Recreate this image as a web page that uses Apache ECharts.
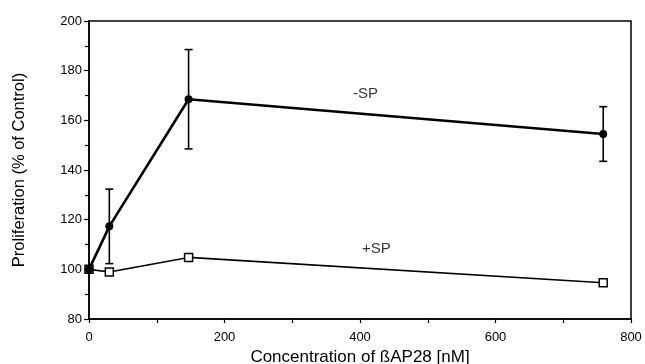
<!DOCTYPE html>
<html>
<head>
<meta charset="utf-8">
<script src="https://cdn.jsdelivr.net/npm/echarts@6/dist/echarts.min.js"></script>
<style>html,body{margin:0;padding:0;background:#fff}#c{width:645px;height:364px}</style>
</head>
<body>
<div id="c"></div>
<script>
const concentrations = [0, 30, 147, 759];
const minusSP = [100, 117.3, 168.5, 154.5];
const minusSPErr = [0, 15, 20, 11];
const plusSP = [100, 98.9, 104.8, 94.6];
const seriesNames = ['-SP', '+SP'];
const labelAnchors = [[408, 170.5], [424, 108.3]];

const font = '"Liberation Sans", Arial, sans-serif';
const chart = echarts.init(document.getElementById('c'));

const errData = concentrations.map((x, i) => [x, minusSP[i] - minusSPErr[i], minusSP[i] + minusSPErr[i]]).filter((d, i) => minusSPErr[i] > 0);

chart.setOption({
  animation: false,
  backgroundColor: '#fff',
  grid: { left: 89, right: 14, top: 21, bottom: 45, show: true, borderColor: '#000', borderWidth: 1.5, backgroundColor: 'transparent', containLabel: false, outerBoundsMode: 'none' },
  xAxis: {
    type: 'value', min: 0, max: 800, interval: 200,
    name: 'Concentration of ßAP28 [nM]', nameLocation: 'middle', nameGap: 24,
    nameTextStyle: { fontFamily: font, fontSize: 17, color: '#000' },
    axisLine: { show: true, lineStyle: { color: '#000', width: 1.5 } },
    axisTick: { show: true, length: 4, inside: false, lineStyle: { color: '#000', width: 1.2 } },
    minorTick: { show: true, splitNumber: 2, length: 4, lineStyle: { color: '#000', width: 1.2 } },
    axisLabel: { fontFamily: font, fontSize: 13, color: '#000', margin: 12 },
    splitLine: { show: false }
  },
  yAxis: {
    type: 'value', min: 80, max: 200, interval: 20,
    name: 'Proliferation (% of Control)', nameLocation: 'middle', nameGap: 61,
    nameTextStyle: { fontFamily: font, fontSize: 16.5, color: '#000' },
    axisLine: { show: true, lineStyle: { color: '#000', width: 1.5 } },
    axisTick: { show: true, length: 5, lineStyle: { color: '#000', width: 1.2 } },
    minorTick: { show: true, splitNumber: 2, length: 4, lineStyle: { color: '#000', width: 1.2 } },
    axisLabel: { fontFamily: font, fontSize: 13, color: '#000', margin: 7 },
    splitLine: { show: false }
  },
  series: [
    {
      type: 'custom', name: 'err', z: 3,
      data: errData,
      renderItem: function (params, api) {
        const lo = api.coord([api.value(0), api.value(1)]);
        const hi = api.coord([api.value(0), api.value(2)]);
        const w = 4;
        const st = { stroke: '#000', lineWidth: 1.6 };
        return { type: 'group', children: [
          { type: 'line', shape: { x1: lo[0], y1: lo[1], x2: hi[0], y2: hi[1] }, style: st },
          { type: 'line', shape: { x1: lo[0] - w, y1: lo[1], x2: lo[0] + w, y2: lo[1] }, style: st },
          { type: 'line', shape: { x1: hi[0] - w, y1: hi[1], x2: hi[0] + w, y2: hi[1] }, style: st }
        ]};
      }
    },
    {
      type: 'line', name: seriesNames[1], z: 4,
      data: concentrations.map((x, i) => [x, plusSP[i]]),
      symbol: 'rect', symbolSize: 8,
      itemStyle: { color: '#fff', borderColor: '#000', borderWidth: 1.5 },
      lineStyle: { color: '#000', width: 1.6 }
    },
    {
      type: 'line', name: seriesNames[0], z: 5,
      data: concentrations.map((x, i) => [x, minusSP[i]]),
      symbol: 'circle', symbolSize: 8,
      itemStyle: { color: '#000' },
      lineStyle: { color: '#000', width: 2.6 }
    },
    {
      type: 'scatter', z: 6, symbolSize: 0, silent: true,
      data: labelAnchors.map((p, i) => ({ value: p, name: seriesNames[i] })),
      label: { show: true, position: 'inside', formatter: '{b}', fontFamily: font, fontSize: 15, color: '#000' }
    }
  ]
});
</script>
</body>
</html>
